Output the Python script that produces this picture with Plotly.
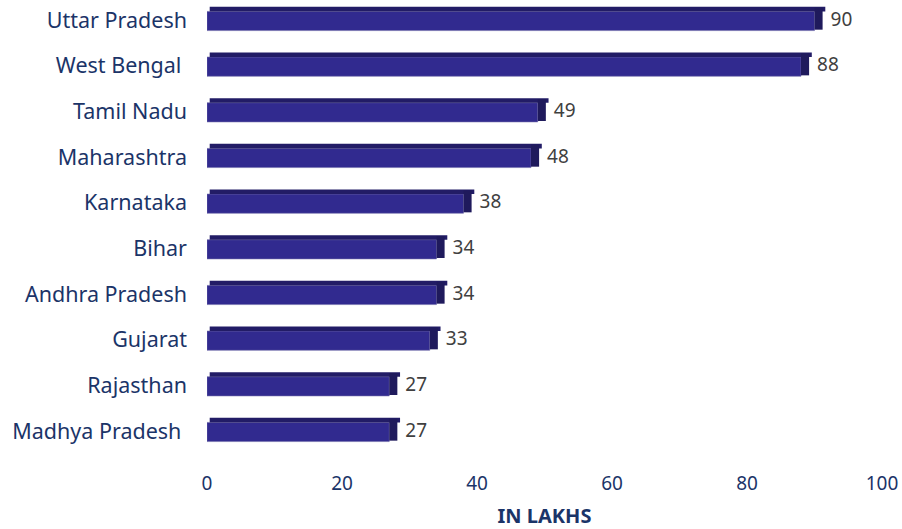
import plotly.graph_objects as go

states = ["Uttar Pradesh", "West Bengal ", "Tamil Nadu", "Maharashtra", "Karnataka",
          "Bihar", "Andhra Pradesh", "Gujarat", "Rajasthan", "Madhya Pradesh "]
values = [90, 88, 49, 48, 38, 34, 34, 33, 27, 27]
x_ticks = [0, 20, 40, 60, 80, 100]
depth = [1.2] * len(values)

front = "#312a8f"
dark = "#221c66"
navy = "#1b3468"
font_family = "Noto Sans"

fig = go.Figure()
# front face
fig.add_trace(go.Bar(
    y=states, x=values, orientation="h", width=0.42, offset=-0.19,
    marker=dict(color=front, line=dict(color="#6e6aa8", width=0.6)),
    hoverinfo="x+y", showlegend=False))
# top face
fig.add_trace(go.Bar(
    y=states, x=[v + d for v, d in zip(values, depth)], base=[0.4] * len(values),
    orientation="h", width=0.1, offset=-0.29,
    marker=dict(color=dark, line=dict(width=0)), hoverinfo="skip", showlegend=False))
# right face with labels
fig.add_trace(go.Bar(
    y=states, x=depth, base=values, orientation="h", width=0.48, offset=-0.27,
    marker=dict(color="#1f1a5c", line=dict(width=0)),
    text=[str(v) for v in values], texttemplate=" %{text}", textposition="outside",
    constraintext="none",
    textfont=dict(size=19, color="#404040", family=font_family),
    cliponaxis=False, hoverinfo="skip", showlegend=False))

fig.update_layout(
    width=902, height=529, barmode="overlay",
    margin=dict(l=207, r=20, t=0, b=76),
    paper_bgcolor="white", plot_bgcolor="white",
    font=dict(family=font_family, size=19, color=navy),
    xaxis=dict(range=[0, 100], tickvals=x_ticks, showgrid=False, zeroline=False,
               showline=False, ticks="", ticklabelstandoff=17, automargin=False,
               tickfont=dict(size=19, color=navy),
               title=dict(text="<b>IN LAKHS</b>", font=dict(size=20, color=navy), standoff=23)),
    yaxis=dict(categoryorder="array", categoryarray=states, range=[9.48, -0.44],
               showgrid=False, zeroline=False, showline=False, ticks="", automargin=False,
               ticklabelstandoff=19, tickfont=dict(size=21.5, color=navy)),
)

fig.write_html(
    "out.html",
    config={"displayModeBar": False},
    post_script="document.body.style.margin='0';document.body.style.overflow='hidden';",
)
